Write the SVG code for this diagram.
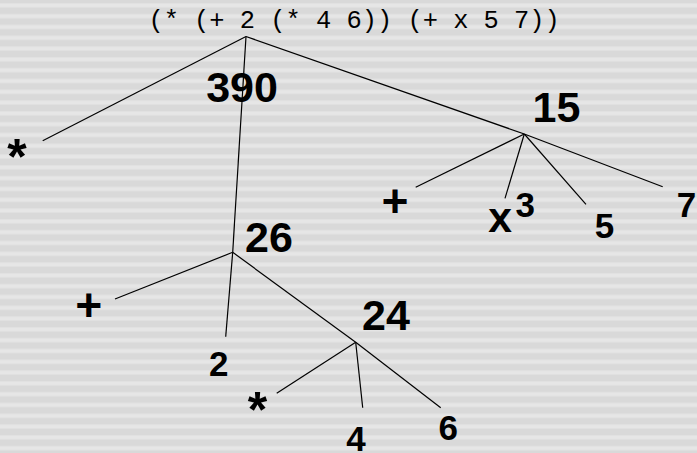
<svg xmlns="http://www.w3.org/2000/svg" width="697" height="453" viewBox="0 0 697 453">
<defs>
<pattern id="stripes" patternUnits="userSpaceOnUse" width="697" height="10.8">
<rect width="697" height="10.8" fill="#d9d9d9"/>
<rect y="3.3" width="697" height="4.1" fill="#e6e6e6"/>
</pattern>
<style>
.expr{font-family:"Liberation Mono","Courier New",monospace;font-size:25.4px;fill:#000}
.val{font-family:"Liberation Sans",Arial,Helvetica,sans-serif;font-weight:bold;font-size:43px;fill:#000;text-anchor:middle}
.leaf{font-family:"Liberation Sans",Arial,Helvetica,sans-serif;font-weight:bold;font-size:35px;fill:#000;text-anchor:middle}
.sym{font-family:"Liberation Mono","Courier New",monospace;font-weight:bold;fill:#000;text-anchor:middle}
.star{font-size:50px}
.plus{font-size:46px}
.var{font-size:42px}
.edge{stroke:#000;stroke-width:1.2;fill:none}
</style>
</defs>
<rect width="697" height="453" fill="url(#stripes)"/>
<g id="connectors">
<line class="edge" x1="246" y1="36.5" x2="42.7" y2="140.7"/>
<line class="edge" x1="246" y1="36.5" x2="232.7" y2="252.3"/>
<line class="edge" x1="246" y1="36.5" x2="524.3" y2="134"/>
<line class="edge" x1="524.3" y1="134" x2="415.7" y2="187.3"/>
<line class="edge" x1="524.3" y1="134" x2="505" y2="198.3"/>
<line class="edge" x1="524.3" y1="134" x2="586" y2="204.3"/>
<line class="edge" x1="524.3" y1="134" x2="662.7" y2="186.7"/>
<line class="edge" x1="232.7" y1="252.3" x2="115" y2="299"/>
<line class="edge" x1="232.7" y1="252.3" x2="225.7" y2="336.7"/>
<line class="edge" x1="232.7" y1="252.3" x2="355.7" y2="342.3"/>
<line class="edge" x1="355.7" y1="342.3" x2="276.7" y2="393.3"/>
<line class="edge" x1="355.7" y1="342.3" x2="362.7" y2="407.7"/>
<line class="edge" x1="355.7" y1="342.3" x2="440.7" y2="407.7"/>
</g>
<g id="node-root">
<text class="expr" x="148.4" y="28">(* (+ 2 (* 4 6)) (+ x 5 7))</text>
<text class="val" x="242" y="101.5">390</text>
</g>
<g id="node-star-root"><text class="sym star" x="17" y="174.5">*</text></g>
<g id="node-15"><text class="val" x="556.5" y="121.5">15</text></g>
<g id="node-plus-15"><text class="sym plus" x="395" y="217">+</text></g>
<g id="node-x">
<text class="sym var" x="500" y="231.7">x</text>
<text class="leaf" x="525.3" y="216.7">3</text>
</g>
<g id="node-5"><text class="leaf" x="604.5" y="237.8">5</text></g>
<g id="node-7"><text class="leaf" x="686.5" y="216.7">7</text></g>
<g id="node-26"><text class="val" x="269" y="251.7">26</text></g>
<g id="node-plus-26"><text class="sym plus" x="88.7" y="321">+</text></g>
<g id="node-2"><text class="leaf" x="218.7" y="375.7">2</text></g>
<g id="node-24"><text class="val" x="386" y="330">24</text></g>
<g id="node-star-24"><text class="sym star" x="257.5" y="428.3">*</text></g>
<g id="node-4"><text class="leaf" x="356" y="451">4</text></g>
<g id="node-6"><text class="leaf" x="448.3" y="439.6">6</text></g>
</svg>
